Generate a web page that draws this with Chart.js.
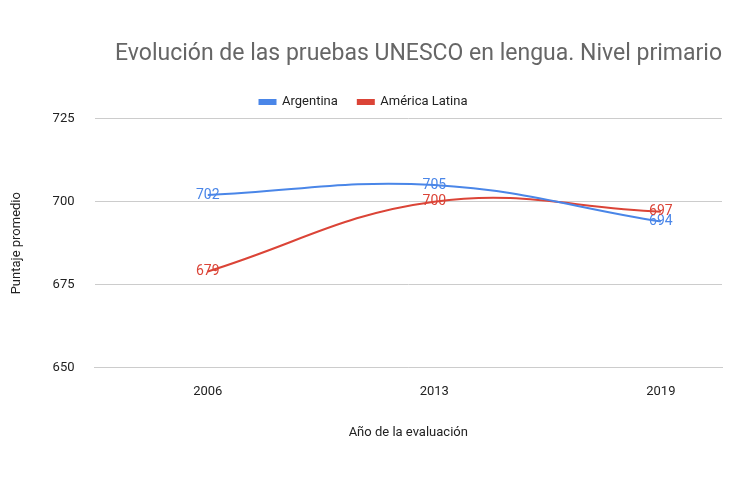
<!DOCTYPE html>
<html>
<head>
<meta charset="utf-8">
<script src="https://cdn.jsdelivr.net/npm/chart.js@4"></script>
<style>
  body { margin: 0; background: #fff; }
  #wrap { width: 730px; height: 485px; }
</style>
</head>
<body>
<div id="wrap"><canvas id="chart"></canvas></div>
<script>
const years = ['2006', '2013', '2019'];
const argentina = [702, 705, 694];
const americaLatina = [679, 700, 697];
const yTicks = [650, 675, 700, 725];

// etiquetas de valores sobre cada punto
const valueLabels = {
  id: 'valueLabels',
  afterDatasetsDraw(chart) {
    const ctx = chart.ctx;
    ctx.save();
    ctx.font = '14px Roboto, sans-serif';
    ctx.textAlign = 'center';
    ctx.textBaseline = 'middle';
    chart.data.datasets.forEach((ds, i) => {
      chart.getDatasetMeta(i).data.forEach((pt, j) => {
        ctx.fillStyle = ds.borderColor;
        ctx.fillText(ds.data[j].y, pt.x, pt.y);
      });
    });
    ctx.restore();
  }
};

const toPoints = arr => arr.map((v, i) => ({ x: i, y: v }));

new Chart(document.getElementById('chart'), {
  type: 'line',
  data: {
    datasets: [
      { label: 'Argentina', data: toPoints(argentina), borderColor: '#4a86e8', backgroundColor: '#4a86e8', borderWidth: 2, pointRadius: 0, tension: 0.4 },
      { label: 'América Latina', data: toPoints(americaLatina), borderColor: '#db4437', backgroundColor: '#db4437', borderWidth: 2, pointRadius: 0, tension: 0.4 }
    ]
  },
  options: {
    responsive: true,
    maintainAspectRatio: false,
    animation: false,
    layout: { padding: { top: 40, right: 8, bottom: 40, left: 5 } },
    plugins: {
      title: { display: true, align: 'end', text: 'Evolución de las pruebas UNESCO en lengua. Nivel primario', color: '#666', font: { family: 'Roboto, sans-serif', size: 23, weight: 'normal' }, padding: { top: 0, bottom: 8 } },
      legend: { labels: { boxWidth: 16, boxHeight: 4, color: '#222', font: { family: 'Roboto, sans-serif', size: 13 }, padding: 20 } },
      tooltip: { enabled: false }
    },
    scales: {
      x: {
        type: 'linear', min: -0.5, max: 2.27,
        afterBuildTicks: axis => { axis.ticks = years.map((_, i) => ({ value: i })); },
        ticks: { callback: v => years[v], color: '#222', font: { family: 'Roboto, sans-serif', size: 13 }, padding: 8 },
        grid: { display: false },
        border: { color: '#ccc' },
        title: { display: true, text: 'Año de la evaluación', color: '#222', font: { family: 'Roboto, sans-serif', size: 13 }, padding: { top: 18 } }
      },
      y: {
        min: 650, max: 725,
        afterBuildTicks: axis => { axis.ticks = yTicks.map(v => ({ value: v })); },
        ticks: { color: '#222', font: { family: 'Roboto, sans-serif', size: 13 }, padding: 20 },
        grid: { color: '#ccc', drawTicks: false },
        border: { display: false },
        title: { display: true, text: 'Puntaje promedio', color: '#222', font: { family: 'Roboto, sans-serif', size: 13 }, padding: { bottom: 8 } }
      }
    }
  },
  plugins: [valueLabels]
});
</script>
</body>
</html>
